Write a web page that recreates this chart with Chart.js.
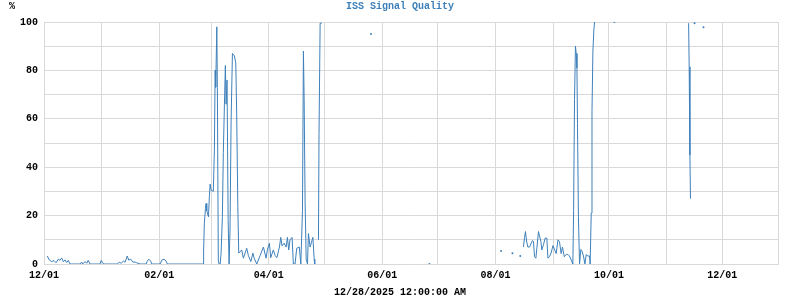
<!DOCTYPE html>
<html>
<head>
<meta charset="utf-8">
<script src="https://cdn.jsdelivr.net/npm/chart.js@4/dist/chart.umd.min.js"></script>
<style>
  html, body { margin: 0; padding: 0; background: #fff; }
  #wrap { width: 800px; height: 300px; }
</style>
</head>
<body>
<div id="wrap"><canvas id="chart" width="800" height="300"></canvas></div>
<script>
// days since 2024-12-01, null quality = gap in the record
var startDate = '2024-12-01';
var days = [
  1.8, 2.9, 4.1, 5.4, 6.5, 7.7, 8.6, 9.5, 10.4, 11.3, 12.2, 13.1, 14.0, 19.4, 20.3, 20.8,
  22.1, 23.0, 23.8, 24.8, 30.1, 30.8, 31.6, 32.3, 39.5, 40.5, 41.5, 42.7, 43.6, 44.8, 45.6,
  46.7, 47.8, 49.0, 49.9, 51.7, 54.9, 55.6, 56.4, 57.4, 58.0, 62.5, 63.4, 64.6, 65.7, 66.4,
  85.8, 85.9, 86.3, 86.9, 87.2, 87.6, 88.5, 89.0, 89.4, 89.9, 91.1, 91.7, 92.1, 92.4, 93.0,
  93.3, 93.8, 94.2, 94.8, 95.3, 96.0, 96.5, 97.1, 97.6, 98.0, 98.5, 99.1, 99.6, 100.1, 100.7,
  101.4, 102.5, 103.2, 103.7, 104.3, 104.8, 106.4, 107.3, 109.1, 110.0, 111.3, 112.4, 113.1,
  114.5, 116.3, 118.1, 119.5, 120.2, 121.3, 122.0, 123.4, 124.4, 125.3, 126.7, 127.4, 128.1,
  129.2, 130.3, 131.0, 131.7, 132.4, 133.5, 134.2, 135.1, 136.0, 137.4, 138.2, 139.1, 139.6,
  140.0, 140.5, 141.1, 141.8, 142.3, 143.2, 144.7, 145.4, 145.7,
  146.7,
  147.7, 148.0, 148.6, 149.5,
  160, 176.0, 190, 207.4, 220, 246.0, 249, 252.1, 254, 256.3, 257,
  258.0, 258.6, 259.1, 259.7, 260.4, 261.3, 262.0, 262.9, 263.4, 264.0, 264.7, 265.3, 266.1,
  266.7, 267.4, 267.9, 268.8, 269.7, 270.6, 271.2, 272.0, 272.8, 273.9, 274.6, 275.6, 276.6,
  277.4, 278.3, 279.0, 280.0, 281.0, 281.9, 282.8, 283.7, 284.6, 285.0, 285.5, 286.0, 286.4,
  286.8, 287.1, 287.6, 288.2, 288.9, 289.5, 290.3, 291.1, 291.8, 292.7, 293.6, 293.9, 294.5,
  294.9, 295.4, 295.9, 296.3,
  300, 307.0, 320,
  346.9, 347.2, 347.6, 347.9,
  349, 350.1, 352, 354.9
];
var quality = [
  3.3, 1.6, 1, 1.4, 0.5, 2, 1.5, 2.5, 1, 1.7, 0.6, 1.5, 0, 0, 0.8, 0,
  1, 0.3, 1.5, 0, 0, 1.5, 0.3, 0, 0, 0.8, 0.3, 1.2, 0.7, 3.3, 1.6,
  2, 0.8, 0.8, 0.5, 0, 0, 1.2, 2, 1.2, 0, 0, 1.6, 2, 1.2, 0,
  0, 5.8, 17, 23, 25, 22, 19.5, 28, 33, 30.6, 30, 47, 80, 73, 98,
  73, 1.6, 0, 0, 4.5, 19.5, 46, 66, 82, 66, 76, 18, 0, 14, 59.5,
  87, 86, 83, 62, 23.7, 4.5, 5.8, 2.4, 6.5, 3.5, 1, 4.5, 2.4,
  0, 3.5, 7, 2.4, 5.8, 8.6, 2.6, 5.8, 3.5, 2.6, 7, 11, 7.5,
  8.6, 7, 11, 5.8, 10, 11, 0, 0, 6.5, 7, 0, 22, 88,
  68, 26, 2, 0, 12.6, 7, 11, 2, 0,
  null,
  10, 54, 99.5, 99.5,
  null, 95, null, 0, null, 5.4, null, 4.4, null, 3.3, null,
  7, 11, 13.4, 9.5, 7, 7, 8.3, 9.7, 9.3, 3, 2.4, 7, 13.4,
  11.5, 9.3, 5.8, 8, 10.7, 10.7, 2.4, 3, 4.3, 7.6, 6.3, 4.3, 10,
  9.3, 4.3, 7, 3, 3.9, 4, 3.3, 1.7, 0, 22, 68, 90, 87,
  81, 58, 19.5, 0, 6, 5.4, 3.3, 0, 3.9, 3.3, 3.3, 0, 21,
  63, 88, 96.7, 100,
  null, 100, null,
  99.5, 81.5, 45, 27,
  null, 99.5, null, 97.8
];
var monthStarts = [
  '2024-12-01', '2025-01-01', '2025-02-01', '2025-03-01', '2025-04-01', '2025-05-01',
  '2025-06-01', '2025-07-01', '2025-08-01', '2025-09-01', '2025-10-01', '2025-11-01',
  '2025-12-01'
];
var endDay = 395;
var yTicks = [0, 10, 20, 30, 40, 50, 60, 70, 80, 90, 100];
var chartTitle = 'ISS Signal Quality';
var unitLabel = '%';
var footerText = '12/28/2025 12:00:00 AM';

var lineColor = 'rgb(62,128,186)';
var gridColor = '#d9d9d9';
var monoBold = { family: '"Liberation Mono", "DejaVu Sans Mono", monospace', size: 10, weight: 'bold' };

function dayOf(s) {
  return (Date.parse(s + 'T00:00:00Z') - Date.parse(startDate + 'T00:00:00Z')) / 86400000;
}
var monthDays = monthStarts.map(dayOf);
var monthLabel = {};
monthStarts.forEach(function(s, i) {
  monthLabel[monthDays[i]] = (i % 2 === 0) ? s.slice(5, 7) + '/' + s.slice(8, 10) : '';
});

var points = days.map(function(d, i) { return { x: d, y: quality[i] }; });

function isolated(ctx) {
  var i = ctx.dataIndex;
  if (quality[i] === null || quality[i] === undefined) return 0;
  var prev = i > 0 ? quality[i - 1] : null;
  var next = i < quality.length - 1 ? quality[i + 1] : null;
  return (prev === null && next === null) ? 1 : 0;
}

var textPlugin = {
  id: 'texts',
  afterDraw: function(chart) {
    var c = chart.ctx;
    c.save();
    c.font = 'bold 10px "Liberation Mono", "DejaVu Sans Mono", monospace';
    c.textBaseline = 'middle';
    c.textAlign = 'center';
    c.fillStyle = lineColor;
    c.fillText(chartTitle, 400, 6);
    c.fillStyle = '#000';
    c.textAlign = 'left';
    c.fillText(unitLabel, 9, 6);
    c.textAlign = 'center';
    c.fillText(footerText, 400, 292);
    c.restore();
  }
};

new Chart(document.getElementById('chart').getContext('2d'), {
  type: 'line',
  data: {
    datasets: [{
      data: points,
      borderColor: lineColor,
      borderWidth: 1,
      fill: false,
      tension: 0,
      spanGaps: false,
      pointRadius: isolated,
      pointBackgroundColor: lineColor,
      pointBorderWidth: 0,
      pointHoverRadius: 0
    }]
  },
  options: {
    responsive: false,
    animation: false,
    devicePixelRatio: 1,
    layout: { padding: { top: 22, right: 22, left: 0, bottom: 0 } },
    plugins: { legend: { display: false }, tooltip: { enabled: false }, title: { display: false } },
    scales: {
      x: {
        type: 'linear',
        min: 0,
        max: endDay,
        afterBuildTicks: function(scale) {
          scale.ticks = monthDays.concat([endDay]).map(function(v) { return { value: v }; });
        },
        afterFit: function(scale) { scale.height = 36; },
        grid: { color: gridColor, lineWidth: 1, drawTicks: false },
        border: { color: gridColor },
        ticks: {
          autoSkip: false,
          maxRotation: 0,
          padding: 5,
          color: '#000',
          font: monoBold,
          callback: function(v) { return monthLabel[v] || ''; }
        }
      },
      y: {
        min: 0,
        max: 100,
        afterBuildTicks: function(scale) {
          scale.ticks = yTicks.map(function(v) { return { value: v }; });
        },
        afterFit: function(scale) { scale.width = 44; },
        grid: { color: gridColor, lineWidth: 1, drawTicks: false },
        border: { color: gridColor },
        ticks: {
          padding: 6,
          color: '#000',
          font: monoBold,
          callback: function(v) { return v % 20 === 0 ? String(v) : ''; }
        }
      }
    }
  },
  plugins: [textPlugin]
});
</script>
</body>
</html>
